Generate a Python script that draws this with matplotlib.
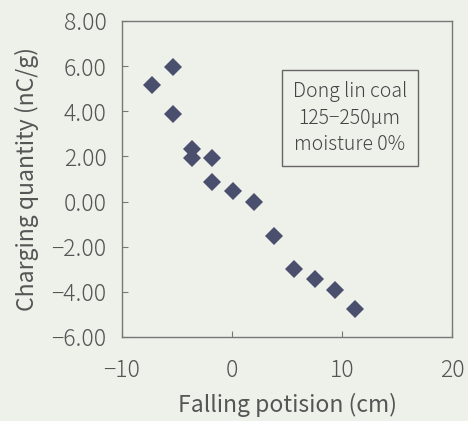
import numpy as np
import matplotlib.pyplot as plt

# falling position (cm) vs charging quantity (nC/g)
position = [-7.3, -5.4, -5.4, -3.6, -3.6, -1.8, -1.8, 0.1, 2.0, 3.8, 5.6, 7.5, 9.4, 11.2]
charge = [5.15, 5.97, 3.88, 2.35, 1.92, 1.95, 0.88, 0.47, -0.02, -1.51, -3.0, -3.42, -3.93, -4.75]

xticks = [-10, 0, 10, 20]
yticks = [-6, -4, -2, 0, 2, 4, 6, 8]

bg = '#eef0ea'
txt = '#555555'
plt.rcParams['font.family'] = ['Noto Sans CJK JP', 'DejaVu Sans']
plt.rcParams['font.weight'] = 'light'

fig = plt.figure(figsize=(4.68, 4.21), dpi=100, facecolor=bg)
ax = fig.add_axes([122/468, 1-337/421, 330/468, 316/421])
ax.set_facecolor(bg)

ax.plot(position, charge, 'D', color='#4b4f6e', markersize=9, markeredgewidth=0)

ax.set_xlim(-10, 20)
ax.set_ylim(-6, 8)
ax.set_xticks(xticks)
ax.set_yticks(yticks)
ax.set_yticklabels([('%.2f' % v).replace('-', '\u2212') for v in yticks])
ax.tick_params(direction='in', length=4, color='#777777', labelsize=16.5, labelcolor=txt)
ax.tick_params(axis='x', pad=15)
ax.tick_params(axis='y', pad=11)
for s in ax.spines.values():
    s.set_color('#777777')
    s.set_linewidth(1.0)

ax.set_xlabel('Falling potision (cm)', fontsize=16.5, color=txt, labelpad=7)
ax.set_ylabel('Charging quantity (nC/g)', fontsize=16.5, color=txt, labelpad=9)

ax.text(0.69, 0.693, 'Dong lin coal\n125\u2212250\u03bcm\nmoisture 0%', transform=ax.transAxes,
        ha='center', va='center', fontsize=14, color='#444444', linespacing=1.35,
        bbox=dict(boxstyle='square,pad=0.55', facecolor='none', edgecolor='#666666', linewidth=1.0))

fig.savefig('out.png', dpi=100, facecolor=bg)
